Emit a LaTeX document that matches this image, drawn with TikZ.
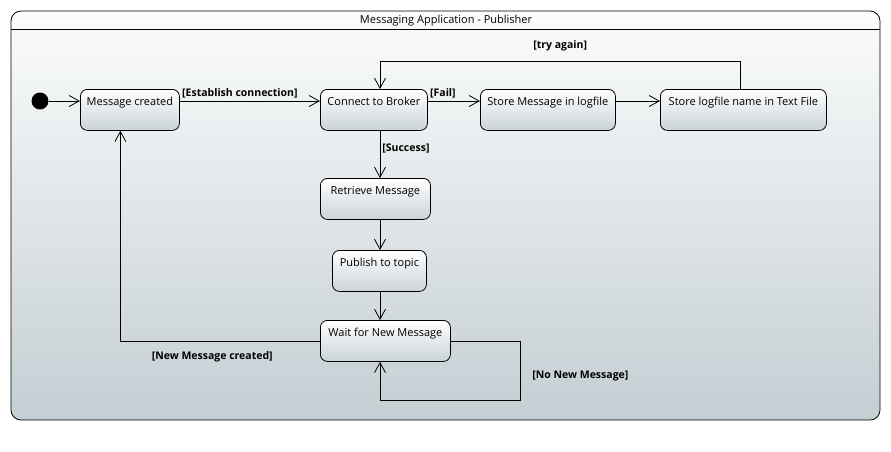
\documentclass[tikz,border=0pt]{standalone}
\usepackage{fontspec}
\setmainfont{Open Sans}
\usetikzlibrary{arrows.meta}
\definecolor{frametop}{HTML}{FBFCFC}
\definecolor{framebot}{HTML}{C4CED3}
\definecolor{boxbot}{HTML}{CAD3D7}
\begin{document}
\begin{tikzpicture}[x=1pt,y=-1pt, line width=0.8pt,
    state/.style={draw, rounded corners=7pt, anchor=north west, inner xsep=0pt, inner ysep=3pt,
        text height=13pt, text depth=22pt, top color=white, bottom color=boxbot,
        font=\fontsize{11}{13}\selectfont},
    trans/.style={-{Straight Barb[length=10pt,width=11pt]}},
    guard/.style={font=\bfseries\fontsize{10.5}{12}\selectfont, inner sep=2pt}]
    \useasboundingbox (0,0) rectangle (891,451);

    % Rahmen
    \path[rounded corners=10pt, top color=frametop, bottom color=framebot, draw=black]
        (11,11) rectangle (880,420);
    \draw (11,29) -- (880,29);
    \node[font=\fontsize{11}{13}\selectfont] (title) at (446,21) {Messaging Application - Publisher};

    % Zustaende
    \node[circle, fill, inner sep=0pt, minimum size=17pt] (init) at (40,101) {};
    \node[state, minimum width=99pt] (created) at (80,89) {Message created};
    \node[state, minimum width=107pt] (broker) at (320,89) {Connect to Broker};
    \node[state, minimum width=135pt] (storemsg) at (480,89) {Store Message in logfile};
    \node[state, minimum width=166pt] (storename) at (660,89) {Store logfile name in Text File};
    \node[state, minimum width=110pt] (retrieve) at (320,178) {Retrieve Message};
    \node[state, minimum width=94pt] (publish) at (332,250) {Publish to topic};
    \node[state, minimum width=130pt] (wait) at (320,320) {Wait for New Message};
    \coordinate (spine) at (380,0);

    % Uebergaenge
    \draw[trans] (init) -- (created.west |- init);
    \draw[trans] (created.east |- init) -- node[guard, anchor=south west, pos=0] {[Establish connection]} (broker.west |- init);
    \draw[trans] (broker.east |- init) -- node[guard, anchor=south west, pos=0] {[Fail]} (storemsg.west |- init);
    \draw[trans] (storemsg.east |- init) -- (storename.west |- init);
    \draw[trans] ([xshift=-3pt]storename.north) -- ++(0,-28) -| node[guard, pos=0.25, above=8pt] {[try again]} (spine |- broker.north);
    \draw[trans] (spine |- broker.south) -- node[guard, anchor=west, pos=0.38] {[Success]} (spine |- retrieve.north);
    \draw[trans] (spine |- retrieve.south) -- (spine |- publish.north);
    \draw[trans] (spine |- publish.south) -- (spine |- wait.north);
    \draw[trans] (wait.west) -| node[guard, pos=0.27, below=8pt] {[New Message created]} ([xshift=-9.5pt]created.south);
    \draw[trans] (wait.east) -| node[guard, pos=0.8, anchor=west, xshift=10pt] {[No New Message]} (520,400) -| (spine |- wait.south);
\end{tikzpicture}
\end{document}
